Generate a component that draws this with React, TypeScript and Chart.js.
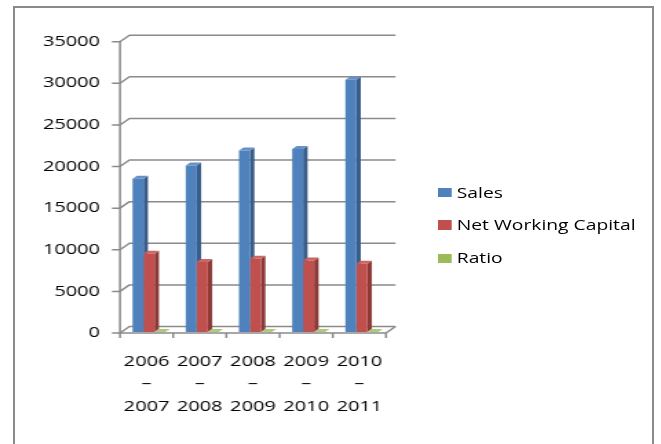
import React, { useEffect, useRef } from "react";
import { Chart, registerables } from "chart.js";

Chart.register(...registerables);

// ---- data ----
const categories = [
  ["2006", "–", "2007"],
  ["2007", "–", "2008"],
  ["2008", "–", "2009"],
  ["2009", "–", "2010"],
  ["2010", "–", "2011"],
];
const seriesNames = ["Sales", "Net Working Capital", "Ratio"];
const salesValues = [18400, 20000, 21800, 22000, 30300];
const nwcValues = [9400, 8400, 8800, 8600, 8200];
const ratioValues = [1.96, 2.38, 2.48, 2.56, 3.7];
const yMin = 0;
const yMax = 35000;
const yStep = 5000;

// ---- style ----
const FRONT = ["#4F81BD", "#C0504D", "#9BBB59"];
const SIDE = ["#385D8A", "#8C3A37", "#71893F"];
const TOPC = ["#6690C8", "#CC6764", "#AFC97A"];
const FONT = '"Open Sans", "Liberation Sans", sans-serif';
const W = 480; // internal canvas width, stretched to 661
const H = 444;
const S = 661 / W;
const GRID = "#8a8a8a";

const threeD = {
  id: "threeD",
  beforeDatasetsDraw(chart: any) {
    const { ctx, chartArea, scales } = chart;
    const { left, right, top, bottom } = chartArea;
    const x = scales.x;
    const y = scales.y;
    const DX = 6.9;
    const DY = -6.5;
    ctx.save();
    ctx.strokeStyle = GRID;
    ctx.lineWidth = 1.5;
    ctx.lineJoin = "round";
    // y ticks, diagonals, back wall gridlines
    for (const t of y.ticks) {
      const py = y.getPixelForValue(t.value);
      ctx.beginPath();
      ctx.moveTo(left - 5.8, py);
      ctx.lineTo(left, py);
      ctx.lineTo(left + DX, py + DY);
      ctx.lineTo(right + DX, py + DY);
      ctx.stroke();
    }
    // front vertical axis
    ctx.beginPath();
    ctx.moveTo(left, top);
    ctx.lineTo(left, bottom);
    ctx.stroke();
    // floor front edge and right diagonal
    ctx.beginPath();
    ctx.moveTo(left, bottom);
    ctx.lineTo(right, bottom);
    ctx.lineTo(right + DX, bottom + DY);
    ctx.stroke();
    // category ticks
    const n = categories.length;
    const cw = (right - left) / n;
    const first = x.getPixelForValue(0) - cw / 2;
    for (let i = 0; i <= n; i++) {
      const px = first + i * cw;
      ctx.beginPath();
      ctx.moveTo(px, bottom);
      ctx.lineTo(px, bottom + 5);
      ctx.stroke();
    }
    ctx.restore();

    // bar side and top faces (front faces drawn by Chart.js afterwards)
    ctx.save();
    ctx.translate(1.8, -1);
    const bdx = 3.2;
    const bdy = -3;
    chart.data.datasets.forEach((ds: any, di: number) => {
      const meta = chart.getDatasetMeta(di);
      meta.data.forEach((el: any) => {
        const xl = el.x - el.width / 2;
        const xr = el.x + el.width / 2;
        const yt = Math.min(el.y, el.base);
        const yb = Math.max(el.y, el.base);
        // side face
        ctx.fillStyle = SIDE[di];
        ctx.beginPath();
        ctx.moveTo(xr, yt);
        ctx.lineTo(xr + bdx, yt + bdy);
        ctx.lineTo(xr + bdx, yb + bdy);
        ctx.lineTo(xr, yb);
        ctx.closePath();
        ctx.fill();
        // top face
        ctx.fillStyle = TOPC[di];
        ctx.beginPath();
        ctx.moveTo(xl, yt);
        ctx.lineTo(xl + bdx, yt + bdy);
        ctx.lineTo(xr + bdx, yt + bdy);
        ctx.lineTo(xr, yt);
        ctx.closePath();
        ctx.fill();
      });
    });
  },
  afterDatasetsDraw(chart: any) {
    chart.ctx.restore();
  },
};

const legendRows = [192.7, 225, 258.3];

export default function App() {
  const ref = useRef<HTMLCanvasElement>(null);
  useEffect(() => {
    const chart = new Chart(ref.current as HTMLCanvasElement, {
      type: "bar",
      data: {
        labels: categories as any,
        datasets: [
          { label: seriesNames[0], data: salesValues, backgroundColor: FRONT[0] },
          { label: seriesNames[1], data: nwcValues, backgroundColor: FRONT[1] },
          { label: seriesNames[2], data: ratioValues, backgroundColor: FRONT[2] },
        ],
      },
      options: {
        responsive: false,
        animation: false,
        events: [],
        datasets: {
          bar: { categoryPercentage: 0.62, barPercentage: 1, borderWidth: 0 },
        },
        layout: { padding: { top: 41.7, right: W - 280.3, bottom: 0, left: 0 } },
        plugins: {
          legend: { display: false },
          tooltip: { enabled: false },
          title: { display: false },
        },
        scales: {
          x: {
            grid: { display: false, drawTicks: false },
            border: { display: false },
            ticks: {
              autoSkip: false,
              maxRotation: 0,
              minRotation: 0,
              padding: 17.4,
              color: "#000",
              font: { family: FONT, size: 14.5, lineHeight: 22.6 / 14.5 },
            },
            afterFit: (s: any) => {
              s.height = H - 333;
            },
          },
          y: {
            min: yMin,
            max: yMax,
            grid: { display: false, drawTicks: false },
            border: { display: false },
            ticks: {
              stepSize: yStep,
              padding: 14.5,
              color: "#000",
              font: { family: FONT, size: 14.5 },
              callback: (v: any) => String(v),
            },
            afterFit: (s: any) => {
              s.width = 87.1;
            },
          },
        },
      },
      plugins: [threeD],
    });
    return () => chart.destroy();
  }, []);

  return (
    <div
      style={{
        position: "fixed",
        left: 0,
        top: 0,
        width: 661,
        height: 444,
        overflow: "hidden",
        background: "#fff",
      }}
    >
      <div
        style={{
          position: "absolute",
          left: 13,
          top: 6,
          width: 641,
          height: 438,
          boxSizing: "border-box",
          border: "2px solid #8a8a8a",
          borderBottom: "none",
        }}
      />
      <div
        style={{
          position: "absolute",
          left: 0,
          top: 0,
          width: W,
          height: H,
          transform: `scaleX(${S})`,
          transformOrigin: "0 0",
        }}
      >
        <canvas ref={ref} width={W} height={H} style={{ display: "block", width: W, height: H }} />
        {seriesNames.map((name, i) => (
          <div
            key={name}
            style={{
              position: "absolute",
              left: 318.3,
              top: legendRows[i] - 10,
              height: 20,
              display: "flex",
              alignItems: "center",
              fontFamily: FONT,
              fontSize: 14,
              color: "#000",
              whiteSpace: "nowrap",
            }}
          >
            <span
              style={{
                display: "inline-block",
                width: 9.4,
                height: 9.3,
                background: FRONT[i],
                marginRight: 4,
              }}
            />
            <span style={{ lineHeight: "20px" }}>{name}</span>
          </div>
        ))}
      </div>
    </div>
  );
}
